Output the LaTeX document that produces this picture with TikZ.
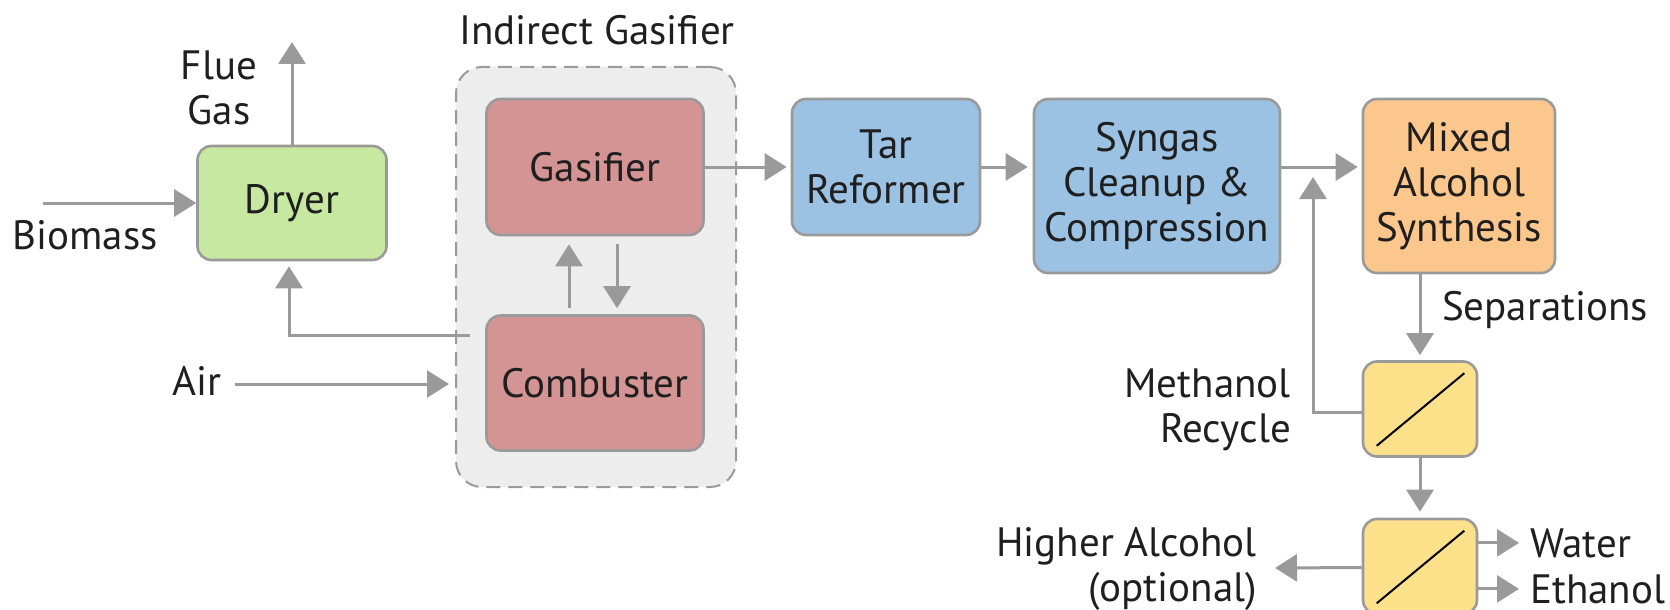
\documentclass[tikz,border=0pt]{standalone}
\usepackage{fontspec}
\setmainfont{PT Sans}
\usetikzlibrary{arrows.meta}
\definecolor{linegray}{HTML}{9A9A9A}
\definecolor{grpgray}{HTML}{EDEDED}
\definecolor{dryergreen}{HTML}{C6E8A0}
\definecolor{gaspink}{HTML}{D49494}
\definecolor{cleanblue}{HTML}{9BC2E3}
\definecolor{synorange}{HTML}{FCC78D}
\definecolor{sepyellow}{HTML}{FDE08A}
\tikzset{
  txt/.style = {font=\fontsize{41}{45}\selectfont, text=black!88},
  punit/.style = {txt, align=center, draw=linegray, line width=2.6pt, rounded corners=14pt, inner sep=0pt},
  sepunit/.style = {punit, fill=sepyellow, minimum width=114pt, minimum height=95pt},
  grp/.style = {draw=linegray, dash pattern=on 14pt off 8pt, line width=2pt, fill=grpgray, rounded corners=26pt},
  flow/.style = {draw=linegray, line width=3pt, -{Triangle[length=22pt,width=27pt]}},
  diag/.style = {draw=black, line width=2pt},
  lbl/.style = {txt, inner sep=0pt},
}

\begin{document}
\begin{tikzpicture}[x=1pt, y=-1pt]
\useasboundingbox (0,0) rectangle (1670,610);

\node [grp, minimum width=280pt, minimum height=420pt] (grp) at (596,277) {};
\node [lbl, anchor=base] (grplbl) at (597,45) {Indirect Gasifier};

\node [punit, fill=dryergreen, minimum width=189pt, minimum height=114pt] (dryer) at (292,203) {Dryer};
\node [punit, fill=gaspink, minimum width=217pt, minimum height=136pt] (gas) at (595,167) {Gasifier};
\node [punit, fill=gaspink, minimum width=217pt, minimum height=135pt] (comb) at (595,383) {Combuster};
\node [punit, fill=cleanblue, minimum width=188pt, minimum height=136pt] (tar) at (886,167) {Tar\\Reformer};
\node [punit, fill=cleanblue, minimum width=246pt, minimum height=174pt] (syn) at (1157,186) {Syngas\\Cleanup \&\\Compression};
\node [punit, fill=synorange, minimum width=192pt, minimum height=174pt] (mix) at (1459,186) {Mixed\\Alcohol\\Synthesis};
\node [sepunit] (sep1) at (1420,409) {};
\node [sepunit] (sep2) at (1420,566.5) {};
\draw [diag] ([shift={(15,-12)}]sep1.south west) -- ([shift={(-14,13)}]sep1.north east);
\draw [diag] ([shift={(15,-12)}]sep2.south west) -- ([shift={(-14,13)}]sep2.north east);

\node [lbl, align=center] (flue) at (219,88) {Flue\\Gas};
\node [lbl] (bio) at (85,235) {Biomass};
\node [lbl] (air) at (197,381) {Air};
\node [lbl, anchor=base west] (seps) at (1442,320) {Separations};
\node [lbl, align=right, anchor=east] (meoh) at (1291,410) {Methanol\\Recycle};
\node [lbl, align=right, anchor=east] (hi) at (1257,569) {Higher Alcohol\\(optional)};
\node [lbl, anchor=base west] (water) at (1530,557) {Water};
\node [lbl, anchor=base west] (etoh) at (1530,603) {Ethanol};

\coordinate (bioin) at (43,203);
\coordinate (fluetop) at (292,42);
\coordinate (airin) at (235,384);
\coordinate (ret) at (470,335);
\coordinate (recyc) at (1313,177);
\coordinate (hiout) at (1275,568);

\draw [flow] (bioin) -- (dryer.west);
\draw [flow] (dryer.north) -- (fluetop);
\draw [flow, shorten >=6pt] (airin) -- (grp.west |- airin);
\draw [flow, shorten >=5pt] (ret) -| ([xshift=-3pt]dryer.south);
\draw [flow, shorten <=6pt, shorten >=8pt] ([xshift=-26pt]comb.north) -- ([xshift=-26pt]gas.south);
\draw [flow, shorten <=8pt, shorten >=6pt] ([xshift=22pt]gas.south) -- ([xshift=22pt]comb.north);
\draw [flow, shorten >=4pt] (gas.east) -- (gas.east -| tar.west);
\draw [flow, shorten >=5pt] (tar.east) -- (tar.east -| syn.west);
\draw [flow, shorten >=4pt] (tar.east -| syn.east) -- (tar.east -| mix.west);
\draw [flow] ([yshift=-3pt]sep1.west) -| (recyc);
\draw [flow, shorten >=5pt] (mix.south -| sep1.north) -- (sep1.north);
\draw [flow, shorten >=6pt] (sep1.south) -- (sep2.north);
\draw [flow] ([yshift=-1pt]sep2.west) -- (hiout);
\draw [flow, shorten >=11pt] (sep2.east |- water) -- (water.west);
\draw [flow, shorten >=11pt] (sep2.east |- etoh) -- (etoh.west);
\end{tikzpicture}
\end{document}
